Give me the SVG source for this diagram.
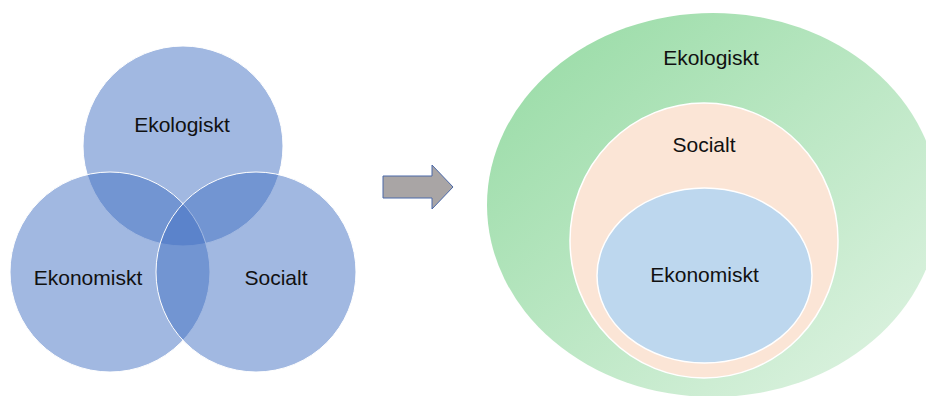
<svg xmlns="http://www.w3.org/2000/svg" width="926" height="396" viewBox="0 0 926 396">
<style>
.venn{fill:#4472C4;fill-opacity:0.5;stroke:#ffffff;stroke-width:1}
.lbl{font-family:"Liberation Sans",Arial,sans-serif;font-size:21px;fill:#111111;text-anchor:middle}
.ring{stroke:#ffffff;stroke-width:1.5}
</style>
<defs>
<linearGradient id="green" x1="0" y1="0" x2="1" y2="1">
<stop offset="0" stop-color="#94DAA2"/>
<stop offset="1" stop-color="#E2F4E5"/>
</linearGradient>
</defs>
<rect width="926" height="396" fill="#ffffff"/>
<g id="venn-ekologiskt">
<circle class="venn" cx="183" cy="146" r="100"/>
</g>
<g id="venn-ekonomiskt">
<circle class="venn" cx="110" cy="272" r="100"/>
</g>
<g id="venn-socialt">
<circle class="venn" cx="256" cy="272" r="100"/>
</g>
<g id="venn-labels">
<text class="lbl" x="182" y="132">Ekologiskt</text>
<text class="lbl" x="88" y="285">Ekonomiskt</text>
<text class="lbl" x="276" y="285">Socialt</text>
</g>
<g id="connectors">
<polygon points="383,176 432,176 432,165 453,187 432,209 432,198 383,198" fill="#A9A5A5" stroke="#4A68A8" stroke-width="1"/>
</g>
<g id="nest-ekologiskt">
<ellipse cx="713" cy="205" rx="226" ry="192" fill="url(#green)"/>
<text class="lbl" x="711" y="65">Ekologiskt</text>
</g>
<g id="nest-socialt">
<ellipse class="ring" cx="704" cy="240.5" rx="134" ry="137.5" fill="#FBE5D6"/>
<text class="lbl" x="704" y="152">Socialt</text>
</g>
<g id="nest-ekonomiskt">
<ellipse class="ring" cx="704.5" cy="275.5" rx="107.5" ry="87.5" fill="#BDD7EE"/>
<text class="lbl" x="704.5" y="282">Ekonomiskt</text>
</g>
</svg>
